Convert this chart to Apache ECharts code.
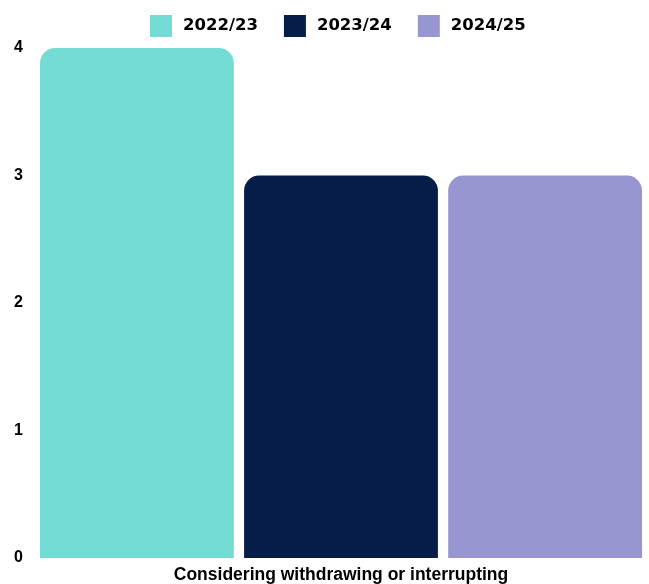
<!DOCTYPE html>
<html>
<head>
<meta charset="utf-8">
<script src="https://cdn.jsdelivr.net/npm/echarts@6/dist/echarts.min.js"></script>
<style>
  html, body { margin: 0; padding: 0; background: #ffffff; }
  #chart { width: 649px; height: 584px; }
</style>
</head>
<body>
<div id="chart"></div>
<script>
// Chart data
const categories = ['Considering withdrawing or interrupting'];
const seriesNames = ['2022/23', '2023/24', '2024/25'];
const values2022 = [4];
const values2023 = [3];
const values2024 = [3];
const seriesValues = [values2022, values2023, values2024];
const colors = ['#74DCD4', '#061D49', '#9896D1'];

const font = '"Liberation Sans", Arial, sans-serif';
const wideFont = '"DejaVu Sans", sans-serif';

const chart = echarts.init(document.getElementById('chart'), null, { renderer: 'canvas' });

chart.setOption({
  animation: false,
  textStyle: { fontFamily: font },
  legend: {
    top: 10,
    left: 145,
    itemWidth: 22,
    itemHeight: 22,
    itemGap: 26,
    icon: 'rect',
    textStyle: {
      fontFamily: wideFont, fontWeight: 'bold', fontSize: 16.5, color: '#000',
      padding: [0, 0, 0, 6]
    },
    data: seriesNames
  },
  grid: { left: 40, right: 7, top: 48, bottom: 25, containLabel: false },
  xAxis: {
    type: 'category',
    data: categories,
    axisLine: { show: false },
    axisTick: { show: false },
    axisLabel: {
      fontFamily: font, fontWeight: 'bold', fontSize: 17.5, color: '#000', margin: 8
    }
  },
  yAxis: {
    type: 'value',
    min: 0,
    max: 4,
    interval: 1,
    splitLine: { show: false },
    axisLine: { show: false },
    axisTick: { show: false },
    axisLabel: {
      fontFamily: font, fontWeight: 'bold', fontSize: 16, color: '#000',
      align: 'left', margin: 26, verticalAlign: 'middle'
    }
  },
  series: seriesNames.map((name, i) => ({
    name: name,
    type: 'bar',
    data: seriesValues[i],
    barGap: '5.3%',
    barCategoryGap: '0%',
    itemStyle: { color: colors[i], borderRadius: [15, 15, 0, 0] }
  }))
});
</script>
</body>
</html>
